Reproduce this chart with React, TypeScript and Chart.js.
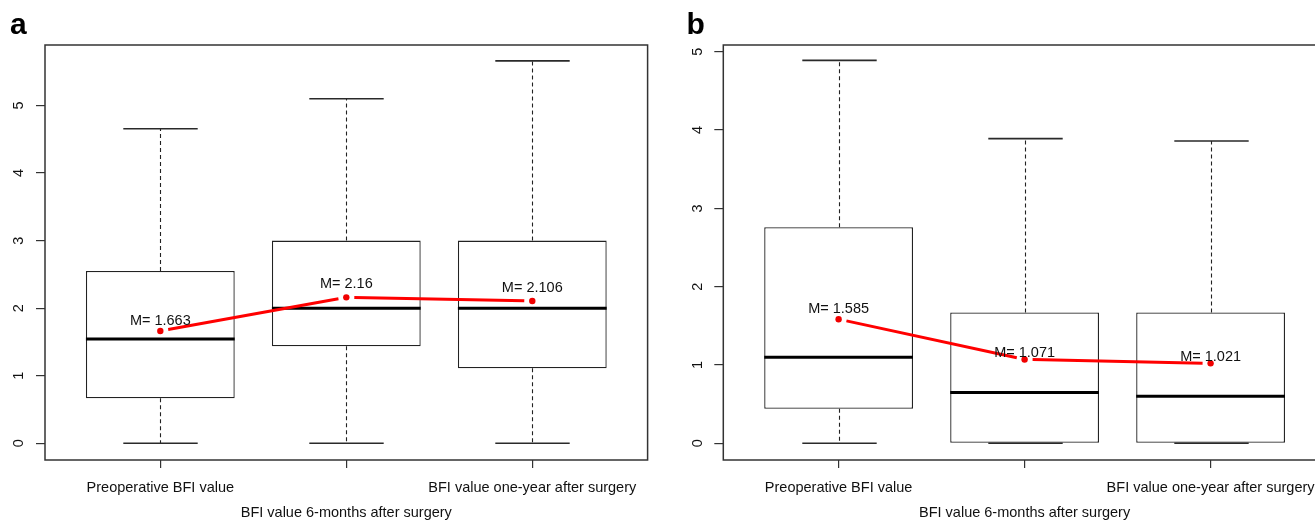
import React, { useEffect, useRef } from 'react';
import { Chart, registerables } from 'chart.js';

Chart.register(...registerables);

// ---------- data ----------
const categories = [
  'Preoperative BFI value',
  'BFI value 6-months after surgery',
  'BFI value one-year after surgery',
];
const xPositions = [1, 2, 3];
const yTickValues = [0, 1, 2, 3, 4, 5];

// Panel a
const aMin = [0, 0, 0];
const aQ1 = [0.666, 1.435, 1.11];
const aMedian = [1.545, 2.0, 2.0];
const aQ3 = [2.55, 3.0, 3.0];
const aMax = [4.655, 5.1, 5.66];
const aMean = [1.663, 2.16, 2.106];

// Panel b
const bMin = [0, 0, 0];
const bQ1 = [0.44, 0, 0];
const bMedian = [1.1, 0.65, 0.6];
const bQ3 = [2.76, 1.67, 1.67];
const bMax = [4.89, 3.89, 3.86];
const bMean = [1.585, 1.071, 1.021];

// ---------- layout / style ----------
const FONT = "'Liberation Sans', Arial, Helvetica, sans-serif";
const TEXT_SIZE = 14.5;

interface PanelSpec {
  letter: string;
  min: number[];
  q1: number[];
  median: number[];
  q3: number[];
  max: number[];
  mean: number[];
  labelOffset: number[]; // px above the mean point
  yMin: number;
  yMax: number;
  canvasLeft: number;
  canvasWidth: number;
  plotLeft: number;
  plotRight: number;
  letterX: number;
}

const panels: PanelSpec[] = [
  {
    letter: 'a',
    min: aMin, q1: aQ1, median: aMedian, q3: aQ3, max: aMax, mean: aMean,
    labelOffset: [10, 13, 12.7],
    yMin: -0.247, yMax: 5.895,
    canvasLeft: 0, canvasWidth: 660,
    plotLeft: 45, plotRight: 647.6,
    letterX: 10,
  },
  {
    letter: 'b',
    min: bMin, q1: bQ1, median: bMedian, q3: bQ3, max: bMax, mean: bMean,
    labelOffset: [10, 6, 6],
    yMin: -0.213, yMax: 5.086,
    canvasLeft: 660, canvasWidth: 700,
    plotLeft: 63.3, plotRight: 665.9,
    letterX: 26.5,
  },
];

const CANVAS_H = 522;
const PLOT_TOP = 45;
const PLOT_BOTTOM = 460;

const tickLabelLines = categories.map((c, i) => (i % 2 === 1 ? ['', c] : c));

function buildChart(canvas: HTMLCanvasElement, p: PanelSpec) {
  const boxParts = {
    id: 'boxParts',
    afterDatasetDraw(chart: any, args: any) {
      if (args.index !== 0) return;
      const ctx = chart.ctx as CanvasRenderingContext2D;
      const xs = chart.scales.x;
      const ys = chart.scales.y;
      const meta = chart.getDatasetMeta(0);
      ctx.save();
      p.q1.forEach((_, i) => {
        const bar = meta.data[i] as any;
        const half = bar.width / 2;
        const cap = half / 2;
        const cx = Math.round(xs.getPixelForValue(xPositions[i])) + 0.5;
        // dashed whiskers
        ctx.strokeStyle = '#222';
        ctx.lineWidth = 1.1;
        ctx.setLineDash([4, 3]);
        ctx.beginPath();
        ctx.moveTo(cx, ys.getPixelForValue(p.q3[i]));
        ctx.lineTo(cx, ys.getPixelForValue(p.max[i]));
        if (p.q1[i] > p.min[i]) {
          ctx.moveTo(cx, ys.getPixelForValue(p.q1[i]));
          ctx.lineTo(cx, ys.getPixelForValue(p.min[i]));
        }
        ctx.stroke();
        ctx.setLineDash([]);
        // staples
        ctx.strokeStyle = '#2a2a2a';
        ctx.lineWidth = 1.6;
        ctx.beginPath();
        [p.max[i], p.min[i]].forEach((v) => {
          const py = ys.getPixelForValue(v);
          ctx.moveTo(cx - cap, py);
          ctx.lineTo(cx + cap, py);
        });
        ctx.stroke();
        // median
        ctx.strokeStyle = '#000';
        ctx.lineWidth = 3;
        const my = ys.getPixelForValue(p.median[i]);
        ctx.beginPath();
        ctx.moveTo(bar.x - half, my);
        ctx.lineTo(bar.x + half, my);
        ctx.stroke();
      });
      ctx.restore();
    },
    afterDatasetsDraw(chart: any) {
      const ctx = chart.ctx as CanvasRenderingContext2D;
      const xs = chart.scales.x;
      const ys = chart.scales.y;
      const area = chart.chartArea;
      ctx.save();
      // mean labels
      ctx.fillStyle = '#111';
      ctx.font = `${TEXT_SIZE}px ${FONT}`;
      ctx.textAlign = 'center';
      ctx.textBaseline = 'middle';
      p.mean.forEach((m, i) => {
        const px = xs.getPixelForValue(xPositions[i]);
        const py = ys.getPixelForValue(m) - p.labelOffset[i];
        ctx.fillText(`M= ${m}`, px, py);
      });
      // frame
      ctx.strokeStyle = '#333';
      ctx.lineWidth = 1.5;
      ctx.strokeRect(area.left, area.top, area.right - area.left, area.bottom - area.top);
      // panel letter
      ctx.fillStyle = '#000';
      ctx.font = `bold 30px ${FONT}`;
      ctx.textAlign = 'left';
      ctx.textBaseline = 'alphabetic';
      ctx.fillText(p.letter, p.letterX, 34);
      ctx.restore();
    },
  };

  const gapDash = (ctx: any) => {
    const dx = ctx.p1.x - ctx.p0.x;
    const dy = ctx.p1.y - ctx.p0.y;
    const L = Math.hypot(dx, dy);
    return [0, 8, Math.max(L - 16, 0), 8];
  };

  return new Chart(canvas, {
    type: 'bar',
    data: {
      datasets: [
        {
          type: 'bar',
          data: p.q1.map((q, i) => ({ x: xPositions[i], y: [q, p.q3[i]] })) as any,
          backgroundColor: '#ffffff',
          borderColor: '#222',
          borderWidth: 1.3,
          borderSkipped: false,
          categoryPercentage: 0.8,
          barPercentage: 1,
          order: 2,
        } as any,
        {
          type: 'line',
          data: p.mean.map((m, i) => ({ x: xPositions[i], y: m })) as any,
          borderColor: '#ff0000',
          borderWidth: 3,
          pointRadius: 3.2,
          pointBackgroundColor: '#f00000',
          pointBorderWidth: 0,
          tension: 0,
          segment: { borderDash: gapDash },
          order: 1,
        } as any,
      ],
    },
    options: {
      animation: false,
      responsive: false,
      events: [],
      layout: {
        padding: {
          left: 0,
          top: PLOT_TOP,
          right: p.canvasWidth - p.plotRight,
          bottom: 0,
        },
      },
      plugins: { legend: { display: false }, tooltip: { enabled: false }, title: { display: false } },
      scales: {
        x: {
          type: 'linear',
          min: 0.38,
          max: 3.62,
          offset: false,
          afterBuildTicks: (s: any) => {
            s.ticks = xPositions.map((v) => ({ value: v }));
          },
          afterFit: (s: any) => {
            s.height = CANVAS_H - PLOT_BOTTOM;
          },
          border: { display: false },
          grid: { offset: false, drawOnChartArea: false, drawTicks: true, tickLength: 8, color: '#333', lineWidth: 1.2 },
          ticks: {
            autoSkip: false,
            minRotation: 0,
            maxRotation: 0,
            padding: 6.9,
            color: '#111',
            font: { family: FONT, size: TEXT_SIZE, lineHeight: 1.766 },
            callback: (_v: any, idx: number) => tickLabelLines[idx],
          },
        } as any,
        y: {
          type: 'linear',
          min: p.yMin,
          max: p.yMax,
          afterBuildTicks: (s: any) => {
            s.ticks = yTickValues.map((v) => ({ value: v }));
          },
          afterFit: (s: any) => {
            s.width = p.plotLeft;
          },
          border: { display: false },
          grid: { drawOnChartArea: false, drawTicks: true, tickLength: 9, color: '#333', lineWidth: 1.2 },
          ticks: {
            minRotation: 90,
            maxRotation: 90,
            crossAlign: 'center',
            padding: 12.5,
            color: '#111',
            font: { family: FONT, size: TEXT_SIZE },
            callback: (v: any) => String(v),
          },
        } as any,
      },
    },
    plugins: [boxParts],
  } as any);
}

function Panel({ spec }: { spec: PanelSpec }) {
  const ref = useRef<HTMLCanvasElement | null>(null);
  useEffect(() => {
    if (!ref.current) return;
    const chart = buildChart(ref.current, spec);
    return () => chart.destroy();
  }, [spec]);
  return (
    <canvas
      ref={ref}
      width={spec.canvasWidth}
      height={CANVAS_H}
      style={{
        position: 'absolute',
        left: spec.canvasLeft,
        top: 0,
        width: spec.canvasWidth,
        height: CANVAS_H,
        display: 'block',
      }}
    />
  );
}

export default function App() {
  return (
    <div
      style={{
        position: 'fixed',
        left: 0,
        top: 0,
        width: 1315,
        height: 522,
        overflow: 'hidden',
        background: '#fff',
      }}
    >
      {panels.map((p) => (
        <Panel key={p.letter} spec={p} />
      ))}
    </div>
  );
}
